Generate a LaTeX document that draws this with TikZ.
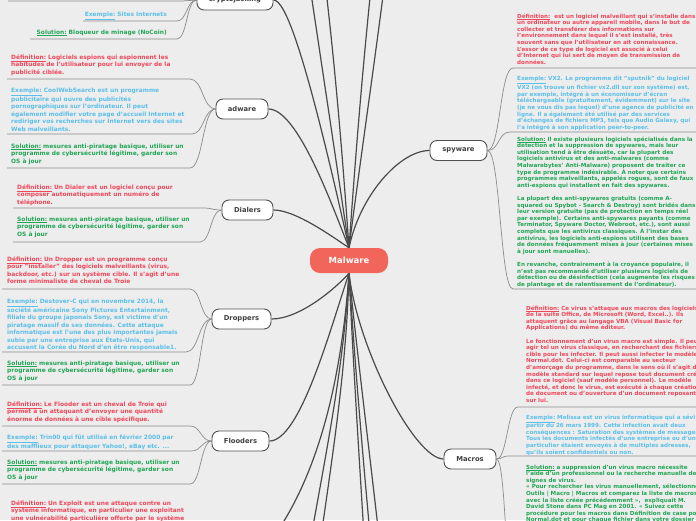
\documentclass[tikz,border=0pt]{standalone}
\usepackage{fontspec}
\setmainfont{DejaVu Sans}
\definecolor{bgc}{HTML}{EDEDED}
\definecolor{defc}{HTML}{F0475A}
\definecolor{exc}{HTML}{5BBFEA}
\definecolor{solc}{HTML}{22A655}
\definecolor{malc}{HTML}{F2655A}
\definecolor{topb}{HTML}{505050}
\definecolor{topt}{HTML}{404040}
\definecolor{brc}{HTML}{4A4A4A}
\definecolor{lfc}{HTML}{8C8C8C}
\newcommand{\ulab}[1]{\underline{#1}}
\pgfdeclarelayer{bg}
\pgfsetlayers{bg,main}
\begin{document}
\begin{tikzpicture}[x=1pt,y=1pt,
 topic/.style={draw=topb, line width=0.9pt, fill=white, rounded corners=7pt, minimum height=20pt, inner sep=0pt, text=topt, font=\bfseries\fontsize{6.8}{8}\selectfont},
 malw/.style={fill=malc, rounded corners=10pt, minimum width=78pt, minimum height=25pt, inner sep=0pt, text=white, font=\bfseries\fontsize{8.5}{10}\selectfont},
 branch/.style={draw=brc, line width=1.2pt},
 leafline/.style={draw=lfc, line width=0.7pt},
 leafL/.style={anchor=north west, inner sep=0pt, align=left, font=\bfseries\fontsize{5.9}{7.5}\selectfont},
 leafR/.style={anchor=north west, inner sep=0pt, align=left, font=\bfseries\fontsize{5.6}{6.6}\selectfont},
 defn/.style={text=defc}, exmp/.style={text=exc}, soln/.style={text=solc}]
\useasboundingbox (0,0) rectangle (696,-520);
\begin{pgfonlayer}{bg}
\fill[bgc] (0,0) rectangle (696,-520);
\end{pgfonlayer}

% central and topic nodes
\node[malw] (malware) at (349,-260.5) {Malware};
\node[topic, minimum width=76pt] (crypto) at (235,0) {cryptojacking};
\node[topic, minimum width=52pt] (adware) at (242,-109) {adware};
\node[topic, minimum width=51pt] (dialers) at (247.5,-210) {Dialers};
\node[topic, minimum width=57pt] (spyware) at (458.5,-150.5) {spyware};
\node[topic, minimum width=59pt] (droppers) at (241.5,-319) {Droppers};
\node[topic, minimum width=57pt] (flooders) at (240.5,-441) {Flooders};
\node[topic, minimum width=52pt] (macros) at (470,-459) {Macros};

% left leaves
\node[leafL,exmp,anchor=north east] (cryEx) at (167,-11.5) {\ulab{Exemple:} Sites Internets};
\node[leafL,soln,anchor=north east] (crySol) at (167,-29.5) {\ulab{Solution:} Bloqueur de minage (NoCoin)};

\node[leafL,defn] (adDef) at (11,-54.5) {\ulab{Définition:} Logiciels espions qui espionnent les\\habitudes de l'utilisateur pour lui envoyer de la\\publicité ciblée.};
\node[leafL,exmp] (adEx) at (11,-87.5) {\ulab{Exemple:} CoolWebSearch est un programme\\publicitaire qui ouvre des publicités\\pornographiques sur l'ordinateur. Il peut\\également modifier votre page d'accueil Internet et\\rediriger vos recherches sur Internet vers des sites\\Web malveillants.};
\node[leafL,soln] (adSol) at (11,-143.5) {\ulab{Solution:} mesures anti-piratage basique, utiliser un\\programme de cybersécurité légitime, garder son\\OS à jour};

\node[leafL,defn] (diDef) at (17,-184.5) {\ulab{Définition:} Un Dialer est un logiciel conçu pour\\composer automatiquement un numéro de\\téléphone.};
\node[leafL,soln] (diSol) at (17,-216.5) {\ulab{Solution:} mesures anti-piratage basique, utiliser un\\programme de cybersécurité légitime, garder son\\OS à jour};

\node[leafL,defn] (drDef) at (7,-256.5) {\ulab{Définition:} Un Dropper est un programme conçu\\pour "installer" des logiciels malveillants (virus,\\backdoor, etc.) sur un système cible. Il s'agit d'une\\forme minimaliste de cheval de Troie};
\node[leafL,exmp] (drEx) at (7,-298.5) {\ulab{Exemple:} Destover-C qui en novembre 2014, la\\société américaine Sony Pictures Entertainment,\\filiale du groupe japonais Sony, est victime d'un\\piratage massif de ses données. Cette attaque\\informatique est l'une des plus importantes jamais\\subie par une entreprise aux États-Unis, qui\\accusent la Corée du Nord d'en être responsable1.};
\node[leafL,soln] (drSol) at (7,-360.5) {\ulab{Solution:} mesures anti-piratage basique, utiliser un\\programme de cybersécurité légitime, garder son\\OS à jour};

\node[leafL,defn] (flDef) at (7,-401.5) {\ulab{Définition:} Le Flooder est un cheval de Troie qui\\permet à un attaquant d'envoyer une quantité\\énorme de données à une cible spécifique.};
\node[leafL,exmp] (flEx) at (7,-434.5) {\ulab{Exemple:} Trin00 qui fût utilisé en février 2000 par\\des mafflieux pour attaquer Yahoo!, eBay etc. ...};
\node[leafL,soln] (flSol) at (7,-459.5) {\ulab{Solution:} mesures anti-piratage basique, utiliser un\\programme de cybersécurité légitime, garder son\\OS à jour};

\node[leafL,defn] (exDef) at (11,-500.5) {\ulab{Définition:} Un Exploit est une attaque contre un\\système informatique, en particulier une exploitant\\une vulnérabilité particulière offerte par le système};

% right leaves
\node[leafR,defn] (spDef) at (517,-13.5) {\ulab{Définition:}~ est un logiciel malveillant qui s'installe dans\\un ordinateur ou autre appareil mobile, dans le but de\\collecter et transférer des informations sur\\l'environnement dans lequel il s'est installé, très\\souvent sans que l'utilisateur en ait connaissance.\\L'essor de ce type de logiciel est associé à celui\\d'Internet qui lui sert de moyen de transmission de\\données.};
\node[leafR,exmp] (spEx) at (517,-76.5) {\ulab{Exemple:} VX2. Le programme dit "sputnik" du logiciel\\VX2 (on trouve un fichier vx2.dll sur son système) est,\\par exemple, intégré à un économiseur d'écran\\téléchargeable (gratuitement, évidemment) sur le site\\(je ne vous dis pas lequel) d'une agence de publicité en\\ligne. Il a également été utilisé par des services\\d'échanges de fichiers MP3, tels que Audio Galaxy, qui\\l'a intégré à son application peer-to-peer.};
\node[leafR,soln] (spSol) at (517,-136.5) {\ulab{Solution:} Il existe plusieurs logiciels spécialisés dans la\\détection et la suppression de spywares, mais leur\\utilisation tend à être désuète, car la plupart des\\logiciels antivirus et des anti-malwares (comme\\Malwarebytes' Anti-Malware) proposent de traiter ce\\type de programme indésirable. À noter que certains\\programmes malveillants, appelés rogues, sont de faux\\anti-espions qui installent en fait des spywares.\\[6.6pt]La plupart des anti-spywares gratuits (comme A-\\squared ou Spybot - Search \& Destroy) sont bridés dans\\leur version gratuite (pas de protection en temps réel\\par exemple). Certains anti-spywares payants (comme\\Terminator, Spyware Doctor, Webroot, etc.), sont aussi\\complets que les antivirus classiques. À l'instar des\\antivirus, les logiciels anti-espions utilisent des bases\\de données fréquemment mises à jour (certaines mises\\à jour sont manuelles).\\[6.6pt]En revanche, contrairement à la croyance populaire, il\\n'est pas recommandé d'utiliser plusieurs logiciels de\\détection ou de désinfection (cela augmente les risques\\de plantage et de ralentissement de l'ordinateur).};

\node[leafR,defn] (maDef) at (526,-305.5) {\ulab{Définition:} Ce virus s'attaque aux macros des logiciels\\de la suite Office, de Microsoft (Word, Excel..). Ils\\attaquent grâce au langage VBA (Visual Basic for\\Applications) du même éditeur.\\[6.6pt]Le fonctionnement d'un virus macro est simple. Il peut\\agir tel un virus classique, en recherchant des fichiers\\cible pour les infecter. Il peut aussi infecter le modèle\\Normal.dot. Celui-ci est comparable au secteur\\d'amorçage du programme, dans le sens où il s'agit du\\modèle standard sur lequel repose tout document créé\\dans ce logiciel (sauf modèle personnel). Le modèle\\infecté, et donc le virus, est exécuté à chaque création\\de document ou d'ouverture d'un document reposant\\sur lui.};
\node[leafR,exmp] (maEx) at (526,-414.5) {\ulab{Exemple:} Melissa est un virus informatique qui a sévi à\\partir du 26 mars 1999. Cette infection avait deux\\conséquences : Saturation des systèmes de messagerie,\\Tous les documents infectés d'une entreprise ou d'un\\particulier étaient envoyés à de multiples adresses,\\qu'ils soient confidentiels ou non.};
\node[leafR,soln] (maSol) at (526,-464.5) {\ulab{Solution:} a suppression d'un virus macro nécessite\\l'aide d'un professionnel ou la recherche manuelle de\\signes de virus.\\« Pour rechercher les virus manuellement, sélectionnez\\Outils | Macro | Macros et comparez la liste de macros\\avec la liste créée précédemment »,~ expliquait M.\\David Stone dans PC Mag en 2001. « Suivez cette\\procédure pour les macros dans Définition de case pour\\Normal.dot et pour chaque fichier dans votre dossier};

% coordinates for underlines and off-picture ends
\coordinate (cryDefR) at (182,-1); \coordinate (cryDefL) at (8,-1);
\coordinate (cryExR) at (177,-21); \coordinate (cryExL) at (83,-21);
\coordinate (crySolR) at (177,-39); \coordinate (crySolL) at (30,-39);
\coordinate (adDefR) at (190,-79); \coordinate (adDefL) at (7,-79);
\coordinate (adExR) at (192,-134); \coordinate (adExL) at (7,-134);
\coordinate (adSolR) at (190,-168); \coordinate (adSolL) at (7,-168);
\coordinate (diDefR) at (203,-208); \coordinate (diDefL) at (13,-208);
\coordinate (diSolR) at (200,-242); \coordinate (diSolL) at (13,-242);
\coordinate (drDefR) at (190,-289); \coordinate (drDefL) at (2,-289);
\coordinate (drExR) at (186,-352); \coordinate (drExL) at (2,-352);
\coordinate (drSolR) at (190,-385); \coordinate (drSolL) at (2,-385);
\coordinate (flDefR) at (190,-426); \coordinate (flDefL) at (2,-426);
\coordinate (flExR) at (191,-451); \coordinate (flExL) at (2,-451);
\coordinate (flSolR) at (190,-484); \coordinate (flSolL) at (2,-484);
\coordinate (spDefL) at (513,-68); \coordinate (spDefR) at (696,-68);
\coordinate (spExL) at (510,-132); \coordinate (spExR) at (696,-132);
\coordinate (spSolL) at (513,-289); \coordinate (spSolR) at (696,-289);
\coordinate (maDefL) at (518,-407); \coordinate (maDefR) at (696,-407);
\coordinate (maExL) at (508,-456); \coordinate (maExR) at (696,-456);
\coordinate (maSolL) at (515,-600);
\coordinate (up1) at (303,60); \coordinate (up2) at (320,60);
\coordinate (up3) at (376,60); \coordinate (up4) at (390,60);
\coordinate (dn0) at (255,-560);
\coordinate (dn1) at (300,-600); \coordinate (dn2) at (312,-600);
\coordinate (dn3) at (368,-600); \coordinate (dn4) at (376,-600);
\coordinate (dn5) at (386,-600);

\begin{pgfonlayer}{bg}
% main branches
\draw[branch] (malware.north) .. controls (305,-50) and (285,0) .. (crypto.east);
\draw[branch] (malware.north) .. controls (333,-208) and (298,-109) .. (adware.east);
\draw[branch] (malware.north) .. controls (330,-235) and (295,-210) .. (dialers.east);
\draw[branch] (malware.north) .. controls (360,-195) and (400,-150.5) .. (spyware.west);
\draw[branch] (malware.south) .. controls (336,-288) and (300,-319) .. (droppers.east);
\draw[branch] (malware.south) .. controls (330,-330) and (300,-441) .. (flooders.east);
\draw[branch] (malware.south) .. controls (358,-350) and (415,-459) .. (macros.west);
\draw[branch] (malware.north) .. controls (333,-140) and (318,-40) .. (up1);
\draw[branch] (malware.north) .. controls (342,-150) and (335,-60) .. (up2);
\draw[branch] (malware.north) .. controls (356,-150) and (363,-60) .. (up3);
\draw[branch] (malware.north) .. controls (363,-140) and (378,-40) .. (up4);
\draw[branch] (malware.south) .. controls (340,-400) and (310,-500) .. (dn0);
\draw[branch] (malware.south) .. controls (343,-380) and (322,-470) .. (dn1);
\draw[branch] (malware.south) .. controls (346,-380) and (330,-470) .. (dn2);
\draw[branch] (malware.south) .. controls (354,-380) and (360,-470) .. (dn3);
\draw[branch] (malware.south) .. controls (356,-380) and (364,-470) .. (dn4);
\draw[branch] (malware.south) .. controls (360,-380) and (372,-470) .. (dn5);
% leaf connectors left
\draw[leafline] (crypto.west) .. controls +(-8,0) and +(8,0) .. (cryDefR) -- (cryDefL);
\draw[leafline] (crypto.west) .. controls +(-10,0) and +(10,0) .. (cryExR) -- (cryExL);
\draw[leafline] (crypto.west) .. controls +(-10,0) and +(10,0) .. (crySolR) -- (crySolL);
\draw[leafline] (adware.west) .. controls +(-13,0) and +(13,0) .. (adDefR) -- (adDefL);
\draw[leafline] (adware.west) .. controls +(-12,0) and +(12,0) .. (adExR) -- (adExL);
\draw[leafline] (adware.west) .. controls +(-13,0) and +(13,0) .. (adSolR) -- (adSolL);
\draw[leafline] (dialers.west) .. controls +(-10,0) and +(10,0) .. (diDefR) -- (diDefL);
\draw[leafline] (dialers.west) .. controls +(-11,0) and +(11,0) .. (diSolR) -- (diSolL);
\draw[leafline] (droppers.west) .. controls +(-11,0) and +(11,0) .. (drDefR) -- (drDefL);
\draw[leafline] (droppers.west) .. controls +(-13,0) and +(13,0) .. (drExR) -- (drExL);
\draw[leafline] (droppers.west) .. controls +(-11,0) and +(11,0) .. (drSolR) -- (drSolL);
\draw[leafline] (flooders.west) .. controls +(-11,0) and +(11,0) .. (flDefR) -- (flDefL);
\draw[leafline] (flooders.west) .. controls +(-11,0) and +(11,0) .. (flExR) -- (flExL);
\draw[leafline] (flooders.west) .. controls +(-11,0) and +(11,0) .. (flSolR) -- (flSolL);
% leaf connectors right
\draw[leafline] (spyware.east) .. controls +(13,0) and +(-13,0) .. (spDefL) -- (spDefR);
\draw[leafline] (spyware.east) .. controls +(12,0) and +(-12,0) .. (spExL) -- (spExR);
\draw[leafline] (spyware.east) .. controls +(13,0) and +(-13,0) .. (spSolL) -- (spSolR);
\draw[leafline] (macros.east) .. controls +(11,0) and +(-11,0) .. (maDefL) -- (maDefR);
\draw[leafline] (macros.east) .. controls +(6,0) and +(-6,0) .. (maExL) -- (maExR);
\draw[leafline] (macros.east) .. controls +(10,0) and +(-10,0) .. (maSolL);
\end{pgfonlayer}
\end{tikzpicture}
\end{document}
